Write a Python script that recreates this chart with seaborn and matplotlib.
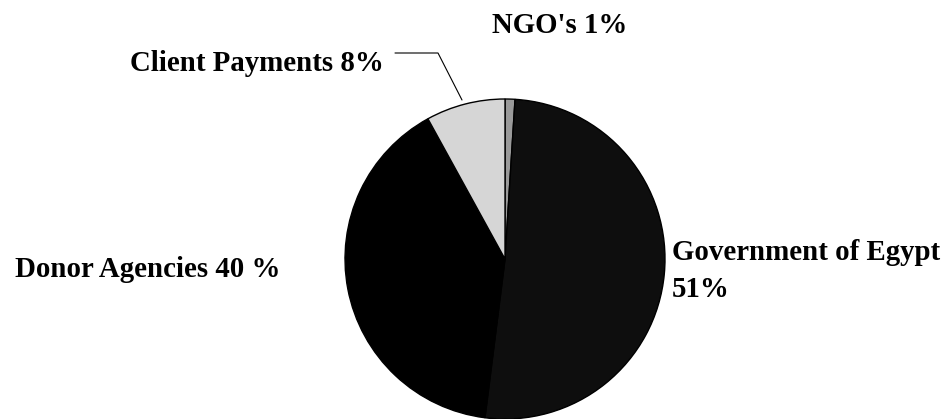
import matplotlib
matplotlib.use("Agg")
import matplotlib.pyplot as plt
import seaborn as sns

# funding sources, clockwise from 12 o'clock
sources = ["NGO's", "Government of Egypt", "Donor Agencies", "Client Payments"]
shares = [1, 51, 40, 8]
colors = ["#9a9a9a", "#0e0e0e", "#000000", "#d6d6d6"]

sns.set_style("white")
plt.rcParams['font.family'] = ['Liberation Serif', 'DejaVu Serif']

fig = plt.figure(figsize=(9.5, 4.19), dpi=100)
ax = fig.add_axes([0, 0, 1, 1])

H = 419
cx, cy, r = 505, H - 259, 160
ax.pie(shares, colors=colors, startangle=90, counterclock=False,
       center=(cx, cy), radius=r,
       wedgeprops=dict(edgecolor="black", linewidth=1))
ax.set_xlim(0, 950)
ax.set_ylim(0, 419)
ax.set_aspect("equal")
ax.axis("off")

fs = 20.8
kw = dict(fontsize=fs, fontweight="bold", color="black", va="baseline")
ax.text(492, H - 33, "NGO's 1%", ha="left", **kw)
ax.text(384, H - 71, "Client Payments 8%", ha="right", **kw)
ax.text(15, H - 277, "Donor Agencies 40 %", ha="left", **kw)
ax.text(672, H - 260, "Government of Egypt", ha="left", **kw)
ax.text(672, H - 297, "51%", ha="left", **kw)

# leader line for client payments
ax.plot([395, 438, 462], [H - 53, H - 53, H - 100], color="black", lw=0.8)

fig.savefig("out.png", dpi=100)
